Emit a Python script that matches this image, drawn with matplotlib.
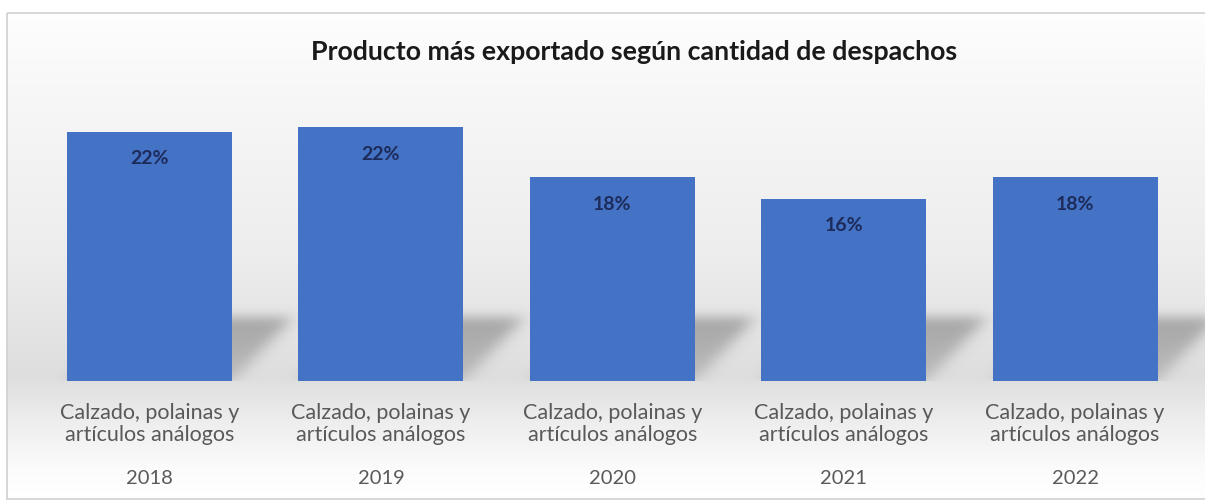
import numpy as np
import matplotlib
matplotlib.use("Agg")
import matplotlib.pyplot as plt
from matplotlib.patches import Rectangle

plt.rcParams['font.family'] = ['Lato', 'DejaVu Sans']

years = ['2018', '2019', '2020', '2021', '2022']
products = ['Calzado, polainas y\nartículos análogos'] * 5
shares = [0.220, 0.224, 0.180, 0.161, 0.180]

BAR_BLUE = '#4472C4'
W, H = 1205, 502


def blur(img, sigma):
    r = int(3 * sigma)
    k = np.exp(-0.5 * (np.arange(-r, r + 1) / sigma) ** 2)
    k /= k.sum()
    img = np.apply_along_axis(lambda m: np.convolve(m, k, mode='same'), 0, img)
    img = np.apply_along_axis(lambda m: np.convolve(m, k, mode='same'), 1, img)
    return img


fig = plt.figure(figsize=(W / 100, H / 100), dpi=100)

# background panel with a soft vertical gradient
bg = fig.add_axes([0, 0, 1, 1], zorder=-2)
bg.set_xlim(0, W)
bg.set_ylim(H, 0)
bg.axis('off')
ys = np.arange(H)
shade = np.interp(ys, [0, 14, 100, 250, 375, 420, 470, 502],
                  [1.0, 0.99, 0.965, 0.93, 0.87, 0.93, 0.985, 1.0])
grad = np.repeat(shade[:, None], 3, axis=1)[:, None, :] * np.ones((1, 2, 1))
bg.imshow(grad, extent=[7, W, 500, 14], aspect='auto', interpolation='bilinear')
bg.add_patch(Rectangle((7, 14), W + 10, 486, fill=False, ec='#d0d0d0', lw=1.2))

# plot area: bars sit on y=382 px, categories 231 px apart
ax = fig.add_axes([33.8 / W, (H - 382) / H, 1157 / W, 283 / H])
ax.patch.set_alpha(0)
x = np.arange(len(years))
width = 0.713

# perspective shadows behind the bars (sheared, shortened, blurred)
x_hi = len(years) - 0.5 + 0.3
nx, ny = 1300, 400
gx = np.linspace(-0.5, x_hi, nx)
gy = np.linspace(0, 0.25, ny)
GX, GY = np.meshgrid(gx, gy)
sh_img = np.zeros_like(GX)
sx, sh = 0.26, 0.056
for xi, v in zip(x, shares):
    t = GY / sh
    left = xi - width / 2 + sx * t
    right = xi + width / 2 + sx * t
    inside = (GY <= sh) & (GX >= left) & (GX <= right)
    sh_img = np.maximum(sh_img, np.where(inside, 0.5 + 0.4 * t, 0))
sh_img = blur(sh_img, 8)
rgba = np.zeros((ny, nx, 4))
rgba[..., :3] = 0.45
rgba[..., 3] = np.clip(sh_img, 0, 1) * 0.62
ax.imshow(rgba, extent=[gx[0], gx[-1], 0, 0.25], origin='lower',
          aspect='auto', zorder=1, interpolation='bilinear', clip_on=False)
ax.set_xlim(-0.5, len(years) - 0.5)
ax.set_ylim(0, 0.25)

ax.bar(x, shares, width=width, color=BAR_BLUE, zorder=2)
for xi, v in zip(x, shares):
    ax.text(xi, v - 0.023, f'{v:.0%}', ha='center', va='center',
            fontsize=14, fontweight='bold', color='#1c2b5a', zorder=3)

ax.set_xticks([])
ax.set_yticks([])
for s in ax.spines.values():
    s.set_visible(False)
xt = ax.get_xaxis_transform()
for xi, prod, yr in zip(x, products, years):
    ax.text(xi, -42 / 283, prod, transform=xt, ha='center', va='center',
            fontsize=15.5, color='#595959', linespacing=1.08)
    ax.text(xi, -97 / 283, yr, transform=xt, ha='center', va='center',
            fontsize=14.5, color='#595959')

fig.text(634 / W, 1 - 52 / H, 'Producto más exportado según cantidad de despachos',
         ha='center', va='center', fontsize=19.3, fontweight='bold', color='#1a1a1a')

fig.savefig('out.png', dpi=100)
